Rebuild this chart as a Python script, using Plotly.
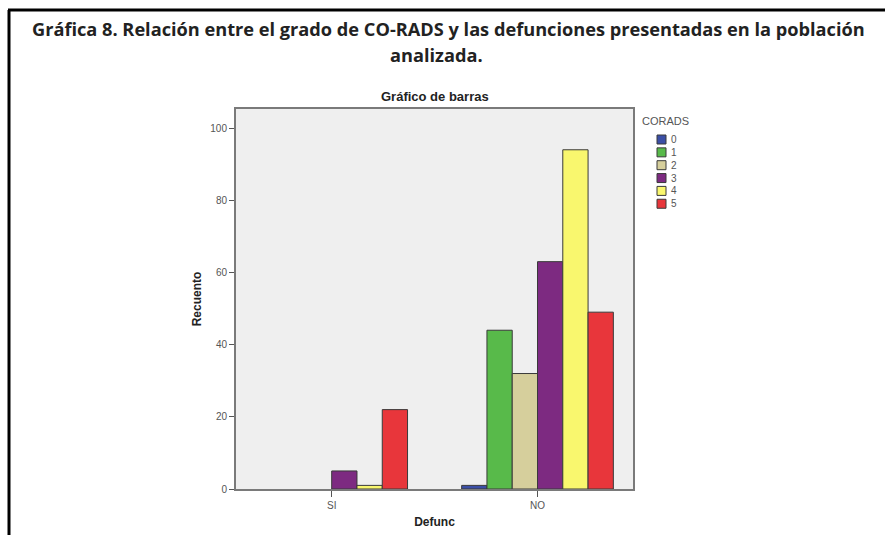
import plotly.graph_objects as go

categories = ["SI", "NO"]
corads_levels = ["0", "1", "2", "3", "4", "5"]
counts_si = [0, 0, 0, 5, 1, 22]
counts_no = [1, 44, 32, 63, 94, 49]
colors = ["#3b4fa6", "#58ba4a", "#d6cf9c", "#7d2a81", "#f9f76e", "#e8363b"]

W, H = 885, 535
L, R, T, B = 236, 633, 109, 489
pw, ph = R - L, B - T

def px(x):
    return (x - L) / pw

def py(y):
    return (B - y) / ph

fig = go.Figure()
for i, lvl in enumerate(corads_levels):
    vals = [counts_si[i], counts_no[i]]
    fig.add_trace(go.Bar(
        x=categories, y=vals, name=lvl,
        marker=dict(color=colors[i],
                    line=dict(color="#3a3a3a", width=[0 if v == 0 else 1 for v in vals])),
        showlegend=False,
    ))

fig.update_layout(
    width=W, height=H,
    margin=dict(l=L, r=W - R, t=T, b=H - B),
    paper_bgcolor="white", plot_bgcolor="#efefef",
    barmode="group", bargap=0.263, bargroupgap=0,
    font=dict(family="Liberation Sans, Arial", color="#444"),
)
fig.update_xaxes(
    type="category", range=[-0.465, 1.464], automargin=False,
    showline=True, linecolor="#7a7a7a", linewidth=2, mirror=True,
    ticks="outside", ticklen=6, tickcolor="#555", tickwidth=1,
    tickfont=dict(size=10, color="#555"), showgrid=False,
    title=dict(text="Defunc", font=dict(size=12, color="#222", weight="bold"), standoff=8),
)
fig.update_yaxes(
    range=[0, 105.3], tickvals=[0, 20, 40, 60, 80, 100], automargin=False,
    showline=True, linecolor="#7a7a7a", linewidth=2, mirror=True,
    ticks="outside", ticklen=5, tickcolor="#555", tickwidth=1,
    tickfont=dict(size=10, color="#555"), showgrid=False, zeroline=False,
    title=dict(text="Recuento", font=dict(size=12, color="#222", weight="bold"), standoff=6),
)

ann = []
ann.append(dict(text="Gráfica 8. Relación entre el grado de CO-RADS y las defunciones presentadas en la población",
                x=px(30), y=py(29), xref="paper", yref="paper", xanchor="left", yanchor="middle",
                showarrow=False, font=dict(family="Open Sans", size=18.2, color="#222", weight="bold")))
ann.append(dict(text="analizada.", x=px(436), y=py(54.5), xref="paper", yref="paper",
                xanchor="center", yanchor="middle", showarrow=False,
                font=dict(family="Open Sans", size=18.2, color="#222", weight="bold")))
ann.append(dict(text="Gráfico de barras", x=px(435), y=py(97), xref="paper", yref="paper",
                xanchor="center", yanchor="middle", showarrow=False,
                font=dict(family="Liberation Sans", size=13, color="#222", weight="bold")))
ann.append(dict(text="CORADS", x=px(640), y=py(121), xref="paper", yref="paper",
                xanchor="left", yanchor="middle", showarrow=False,
                font=dict(family="Liberation Sans", size=11, color="#555")))

shapes = []
for i, lvl in enumerate(corads_levels):
    yc = 139.5 + i * 12.85
    shapes.append(dict(type="rect", xref="paper", yref="paper",
                       x0=px(657), x1=px(666), y0=py(yc - 4.5), y1=py(yc + 4.5),
                       fillcolor=colors[i], line=dict(color="#3a3a3a", width=1)))
    ann.append(dict(text=lvl, x=px(669), y=py(yc), xref="paper", yref="paper",
                    xanchor="left", yanchor="middle", showarrow=False,
                    font=dict(family="Liberation Sans", size=10, color="#555")))

# outer frame lines
shapes.append(dict(type="line", xref="paper", yref="paper", x0=px(9), x1=px(9), y0=py(10), y1=py(540),
                   line=dict(color="black", width=3)))
shapes.append(dict(type="line", xref="paper", yref="paper", x0=px(8), x1=px(890), y0=py(10), y1=py(10),
                   line=dict(color="black", width=3)))

fig.update_layout(annotations=ann, shapes=shapes)
fig.write_html("out.html", config={"displayModeBar": False},
               post_script="document.body.style.margin='0';")
